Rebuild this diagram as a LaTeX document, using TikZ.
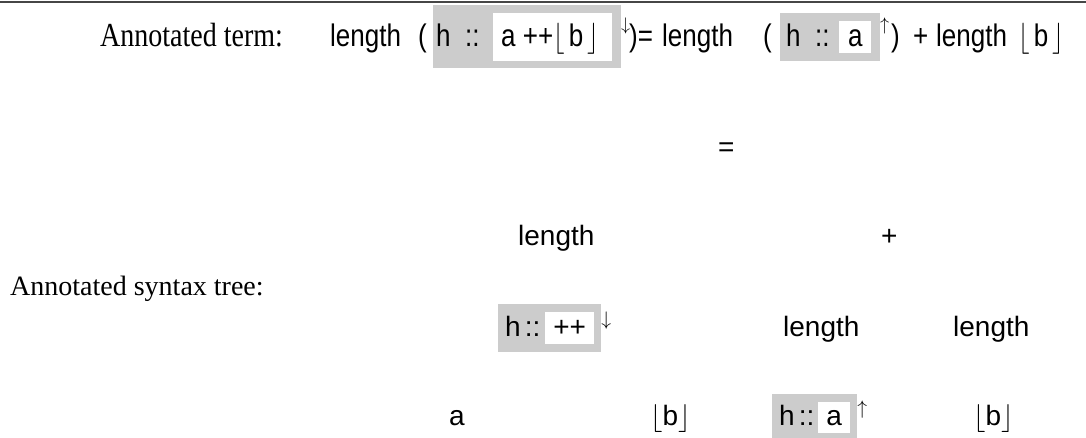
\RequirePackage{fix-cm}
\documentclass[tikz,border=0pt]{standalone}
\usepackage{fontspec}
\usepackage{graphicx}
\setmainfont{Liberation Serif}
\setsansfont{Liberation Sans}
\definecolor{boxgray}{RGB}{204,204,204}
\definecolor{rulegray}{RGB}{70,70,70}
\newcommand\wbx[1]{{\setlength{\fboxsep}{8pt}\colorbox{white}{#1}}}
\newcommand\flb{$\lfloor$b$\rfloor$}
\newcommand\tall[1]{\scalebox{1}[1.2]{#1}}
\begin{document}
\begin{tikzpicture}[x=1pt,y=-1pt,
  txt/.style={font=\sffamily\fontsize{28}{34}\selectfont, inner sep=0pt, anchor=base west},
  top/.style={font=\sffamily\fontsize{26}{32}\selectfont, inner sep=0pt, anchor=base west},
  lbl/.style={font=\rmfamily\fontsize{28}{34}\selectfont, inner sep=0pt, anchor=base west},
  gbox/.style={txt, fill=boxgray, inner xsep=7pt, inner ysep=8pt},
  gfill/.style={fill=boxgray, inner sep=0pt, anchor=north west},
  wfill/.style={fill=white, inner sep=0pt, anchor=north west}]
\fill[white] (0,0) rectangle (1086,438);
\useasboundingbox (0,0) rectangle (1086,438);
\coordinate (rl) at (0,2);
\coordinate (rr) at (1086,2);
\draw[line width=2pt, rulegray] (rl) -- (rr);
% row 1: annotated term
\node[lbl] (t0) at (100,47) {\tall{Annotated term:}};
\node[top] (t1) at (330,47) {\tall{length}};
\node[top] (t2) at (418,47) {\tall{(}};
\node[gfill, minimum width=188pt, minimum height=63pt] (g1) at (433,5) {};
\node[wfill, minimum width=119pt, minimum height=48pt] (w1) at (493,13) {};
\node[top] (g1h) at (436,47) {\tall{h}};
\node[top] (g1c) at (465,47) {\tall{::}};
\node[top] (w1t) at (501,47) {\tall{a ++$\lfloor$\hspace{4pt}b\hspace{4pt}$\rfloor$}};
\node[top] (g1a) at (621,40) {$^{\downarrow}$};
\node[top] (t3) at (629,47) {\tall{)=}};
\node[top] (t4) at (662,47) {\tall{length}};
\node[top] (t5) at (763,47) {\tall{(}};
\node[gfill, minimum width=100pt, minimum height=48pt] (g2) at (780,13) {};
\node[wfill, minimum width=32pt, minimum height=32pt] (w2) at (839,21) {};
\node[top] (g2h) at (786,47) {\tall{h}};
\node[top] (g2c) at (815,47) {\tall{::}};
\node[top] (w2t) at (848,47) {\tall{a}};
\node[top] (g2a) at (880,40) {$^{\uparrow}$};
\node[top] (t6) at (891,47) {\tall{)}};
\node[top] (t7) at (913,47) {\tall{+}};
\node[top] (t8) at (936,47) {\tall{length}};
\node[top] (t9) at (1018,47) {\tall{$\lfloor$\hspace{4pt}b\hspace{4pt}$\rfloor$}};
% row 2
\node[txt] (eq) at (718,157) {=};
% row 3
\node[txt] (r3a) at (518,246) {length};
\node[txt] (r3b) at (881,246) {+};
\node[lbl] (lab) at (10,295) {Annotated syntax tree:};
% row 4
\node[gbox] (g3) at (498,336) {h\hspace{4pt}::\hspace{5pt}\wbx{++}\hspace{2pt}};
\node[txt] (g3a) at (g3.base east) {$^{\downarrow}$};
\node[txt] (r4b) at (783,336) {length};
\node[txt] (r4c) at (953,336) {length};
% row 5
\node[txt] (r5a) at (449,425) {a};
\node[txt] (r5b) at (650,425) {\flb};
\node[gbox] (g4) at (772,425) {h\hspace{4pt}::\hspace{4pt}\wbx{a}};
\node[txt] (g4a) at (g4.base east) {$^{\uparrow}$};
\node[txt] (r5d) at (973,425) {\flb};
\end{tikzpicture}
\end{document}
